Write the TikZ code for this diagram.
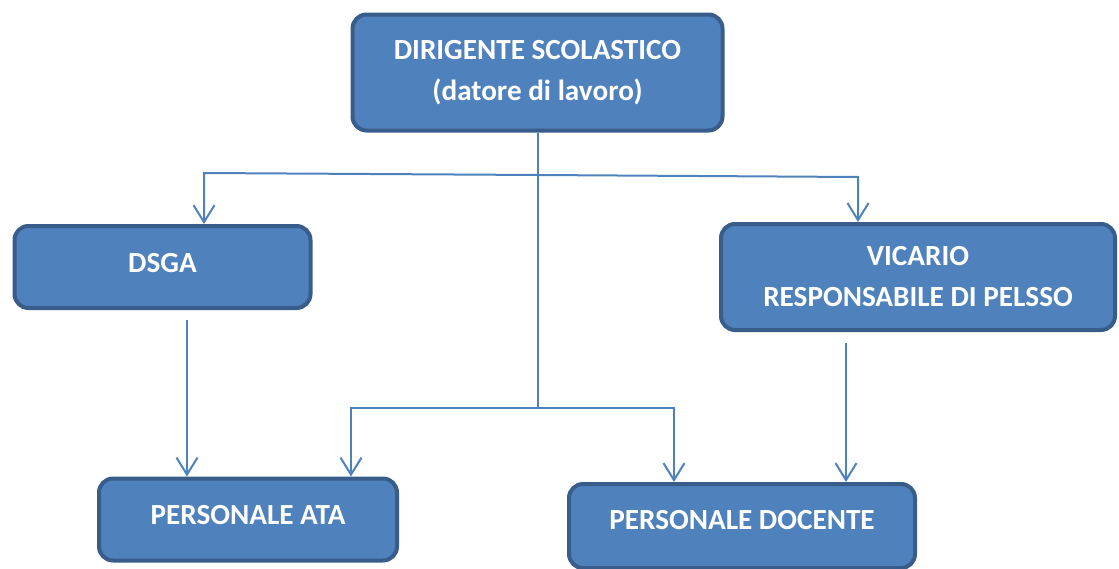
\documentclass[tikz,border=0pt]{standalone}
\usepackage{fontspec}
\setmainfont{Carlito}
\usepackage{tikz}
\usetikzlibrary{arrows.meta}
\definecolor{boxfill}{HTML}{4F81BD}
\definecolor{boxline}{HTML}{385D8A}
\tikzset{
  orgbox/.style={draw=boxline,fill=boxfill,line width=2pt,rounded corners=7pt,
    text=white,font=\bfseries\fontsize{14.6}{20.5}\selectfont,align=center,inner sep=0pt},
  link/.style={draw=boxfill,line width=1pt},
  arr/.style={link,-{Straight Barb[length=8.5pt,width=10.5pt]}}
}
\begin{document}
\begin{tikzpicture}[x=0.5pt,y=-0.5pt]
	\useasboundingbox (0,0) rectangle (1119,568);
	%%  boxes  %%%%%%%%
	\node[orgbox,minimum width=185pt,minimum height=58pt] (ds) at (537.5,72.5)
		{DIRIGENTE SCOLASTICO\\(datore di lavoro)};
	\node[orgbox,minimum width=148pt,minimum height=41pt,text depth=4.5pt] (dsga) at (162.5,267) {DSGA};
	\node[orgbox,minimum width=197pt,minimum height=53pt] (vic) at (918,277)
		{VICARIO\\RESPONSABILE DI PELSSO};
	\node[orgbox,minimum width=149pt,minimum height=41pt,text depth=4.5pt] (ata) at (248,519.5) {PERSONALE ATA};
	\node[orgbox,minimum width=173pt,minimum height=42pt,text depth=6pt] (doc) at (742,526) {PERSONALE DOCENTE};
	%%  branch points  %%%%%%%%
	\coordinate (split) at (538,175);
	\coordinate (l1) at (204,173);
	\coordinate (r1) at (858,177);
	\coordinate (split2) at (538,408);
	\coordinate (l2) at (351,408);
	\coordinate (r2) at (674,408);
	\coordinate (d1) at (187,320);
	\coordinate (v1) at (846,343);
	%%  connectors  %%%%%%%%
	\draw[link] (ds.south -| split) -- (split2);
	\draw[arr] (split) -- (l1) -- (dsga.north -| l1);
	\draw[arr] (split) -- (r1) -- (vic.north -| r1);
	\draw[arr] (split2) -- (l2) -- (ata.north -| l2);
	\draw[arr] (split2) -- (r2) -- (doc.north -| r2);
	\draw[arr] (d1) -- (ata.north -| d1);
	\draw[arr] (v1) -- (doc.north -| v1);
	%%%%%%%%%%%%%%%
\end{tikzpicture}
\end{document}
